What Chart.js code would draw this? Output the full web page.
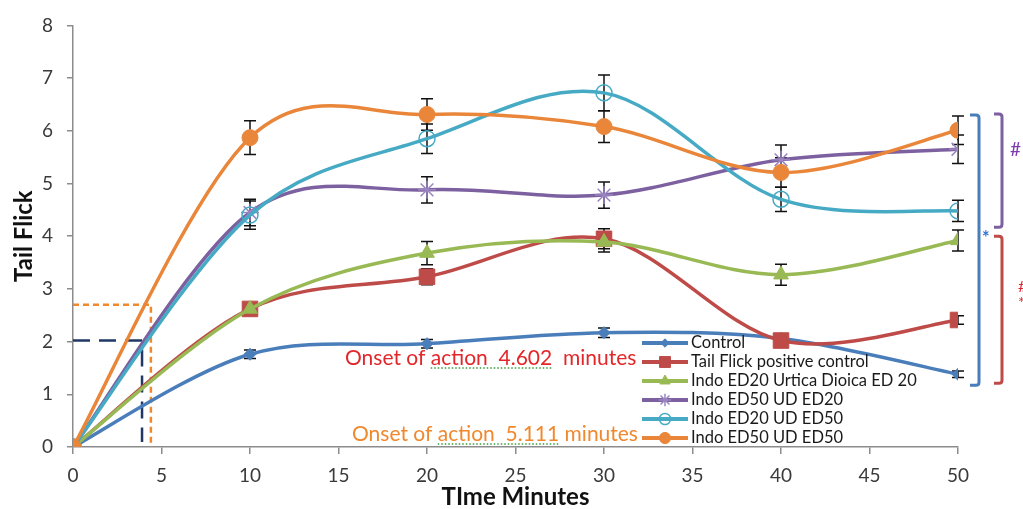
<!DOCTYPE html>
<html>
<head>
<meta charset="utf-8">
<title>Tail Flick</title>
<script src="https://cdn.jsdelivr.net/npm/chart.js@4.4.1/dist/chart.umd.min.js"></script>
<style>
  html, body { margin: 0; padding: 0; background: #ffffff; }
  #wrap { width: 1023px; height: 509px; position: relative; }
</style>
</head>
<body>
<div id="wrap"><canvas id="chart" width="1023" height="509"></canvas></div>
<script>
// Time points (minutes) and tick labels
const timeMinutes = [0, 10, 20, 30, 40, 50];
const xTicks = [0, 5, 10, 15, 20, 25, 30, 35, 40, 45, 50];
const yTicks = [0, 1, 2, 3, 4, 5, 6, 7, 8];

// Series names
const seriesNames = [
  'Control',
  'Tail Flick positive control',
  'Indo ED20 Urtica Dioica ED 20',
  'Indo ED50 UD ED20',
  'Indo ED20 UD ED50',
  'Indo ED50 UD ED50'
];

// Mean tail flick latency per series
const control            = [0, 1.76, 1.96, 2.17, 2.06, 1.38];
const positiveControl    = [0, 2.62, 3.23, 3.95, 2.02, 2.41];
const indoED20UrticaED20 = [0, 2.62, 3.68, 3.89, 3.27, 3.92];
const indoED50UDED20     = [0, 4.45, 4.88, 4.78, 5.45, 5.65];
const indoED20UDED50     = [0, 4.40, 5.85, 6.72, 4.70, 4.48];
const indoED50UDED50     = [0, 5.87, 6.31, 6.08, 5.21, 6.01];

// Error (± SEM) per series
const controlErr            = [0, 0.08, 0.08, 0.09, 0.08, 0.06];
const positiveControlErr    = [0, 0.10, 0.15, 0.19, 0.10, 0.08];
const indoED20UrticaED20Err = [0, 0.10, 0.22, 0.19, 0.20, 0.20];
const indoED50UDED20Err     = [0, 0.25, 0.25, 0.25, 0.28, 0.27];
const indoED20UDED50Err     = [0, 0.27, 0.28, 0.34, 0.23, 0.20];
const indoED50UDED50Err     = [0, 0.32, 0.30, 0.30, 0.28, 0.27];

// Onset guide lines: level on the y axis and time where it is reached
const onsetLevels = [2.02, 2.70];
const onsetTimes  = [3.9, 4.4];
const onsetNotes  = ['Onset of action  4.602  minutes', 'Onset of action  5.111 minutes'];

// Significance groups on the right: [top value, bottom value]
const groupSpans = [[6.30, 1.17], [6.32, 4.17], [4.00, 1.21]];

const FONT = "Lato, 'Open Sans', 'Liberation Sans', sans-serif";

function points(vals) {
  return timeMinutes.map((t, i) => ({ x: t, y: vals[i] }));
}

const common = {
  borderWidth: 3.5,
  tension: 0.5,
  fill: false,
  pointBorderWidth: 1,
  pointHoverRadius: 0
};

const datasets = [
  Object.assign({}, common, {
    label: seriesNames[0], data: points(control), errors: controlErr,
    borderColor: '#4A7EBB', pointBackgroundColor: '#4A7EBB', pointBorderColor: '#4A7EBB',
    pointStyle: 'rectRot', pointRadius: 6, order: 6
  }),
  Object.assign({}, common, {
    label: seriesNames[1], data: points(positiveControl), errors: positiveControlErr,
    borderColor: '#BE4B48', pointBackgroundColor: '#BE4B48', pointBorderColor: '#BE4B48',
    pointStyle: 'rect', pointRadius: 11, order: 5
  }),
  Object.assign({}, common, {
    label: seriesNames[2], data: points(indoED20UrticaED20), errors: indoED20UrticaED20Err,
    borderColor: '#98B954', pointBackgroundColor: '#98B954', pointBorderColor: '#98B954',
    pointStyle: 'triangle', pointRadius: 8.5, order: 4
  }),
  Object.assign({}, common, {
    label: seriesNames[3], data: points(indoED50UDED20), errors: indoED50UDED20Err,
    borderColor: '#7D60A0', pointBackgroundColor: '#9A85C2', pointBorderColor: '#9A85C2',
    pointStyle: 'star', pointRadius: 9, pointBorderWidth: 1.5, order: 3
  }),
  Object.assign({}, common, {
    label: seriesNames[4], data: points(indoED20UDED50), errors: indoED20UDED50Err,
    borderColor: '#46AAC5', pointBackgroundColor: 'rgba(0,0,0,0)', pointBorderColor: '#46AAC5',
    pointStyle: 'circle', pointRadius: 8, pointBorderWidth: 1.5, order: 2
  }),
  Object.assign({}, common, {
    label: seriesNames[5], data: points(indoED50UDED50), errors: indoED50UDED50Err,
    borderColor: '#E9863A', pointBackgroundColor: '#E9863A', pointBorderColor: '#E9863A',
    pointStyle: 'circle', pointRadius: 8, order: 1
  })
];

// Spreadsheet-style smoothing: Bezier handles at one sixth of the
// neighbour-to-neighbour vector (endpoints use themselves as neighbour)
const sixthSmoothing = {
  id: 'sixthSmoothing',
  beforeDatasetsDraw(chart) {
    chart.data.datasets.forEach((ds, di) => {
      const meta = chart.getDatasetMeta(di);
      const pts = meta.data;
      const n = pts.length;
      for (let i = 0; i < n; i++) {
        const p = pts[i];
        const prev = pts[Math.max(i - 1, 0)];
        const next = pts[Math.min(i + 1, n - 1)];
        const dx = (next.x - prev.x) / 6;
        const dy = (next.y - prev.y) / 6;
        p.cp1x = p.x - dx; p.cp1y = p.y - dy;
        p.cp2x = p.x + dx; p.cp2y = p.y + dy;
      }
      if (meta.dataset) {
        meta.dataset._pointsUpdated = true;
        meta.dataset._path = undefined;
      }
    });
  }
};

// Vertical error bars with caps, drawn under the markers
const errorBars = {
  id: 'errorBars',
  beforeDatasetsDraw(chart) {
    const { ctx, scales: { x, y } } = chart;
    ctx.save();
    ctx.strokeStyle = '#111111';
    ctx.lineWidth = 1.5;
    chart.data.datasets.forEach(ds => {
      ds.data.forEach((p, i) => {
        const e = ds.errors[i];
        if (!e) return;
        const px = x.getPixelForValue(p.x);
        const top = y.getPixelForValue(p.y + e);
        const bot = y.getPixelForValue(p.y - e);
        ctx.beginPath();
        ctx.moveTo(px, top); ctx.lineTo(px, bot);
        ctx.moveTo(px - 6, top); ctx.lineTo(px + 6, top);
        ctx.moveTo(px - 6, bot); ctx.lineTo(px + 6, bot);
        ctx.stroke();
      });
    });
    ctx.restore();
  }
};

// Dashed guides marking the onset level and time
const onsetGuides = {
  id: 'onsetGuides',
  beforeDatasetsDraw(chart) {
    const { ctx, scales: { x, y } } = chart;
    const styles = [
      { color: '#1F3864', dash: [17, 9], width: 2.5 },
      { color: '#F0882E', dash: [6, 4], width: 2.5 }
    ];
    ctx.save();
    onsetLevels.forEach((lvl, i) => {
      const s = styles[i];
      const x0 = x.getPixelForValue(0);
      const xt = x.getPixelForValue(onsetTimes[i]);
      const yl = y.getPixelForValue(lvl);
      const yb = y.getPixelForValue(0) - (i === 0 ? 5 : 0);
      ctx.strokeStyle = s.color;
      ctx.lineWidth = s.width;
      ctx.setLineDash(s.dash);
      ctx.beginPath();
      ctx.moveTo(x0, yl); ctx.lineTo(xt, yl); ctx.lineTo(xt, yb);
      ctx.stroke();
    });
    ctx.restore();
  }
};

function drawMarker(ctx, ds, cx, cy, scale) {
  const opts = {
    pointStyle: ds.pointStyle,
    radius: ds.pointRadius * scale,
    rotation: 0,
    borderWidth: ds.pointBorderWidth
  };
  ctx.save();
  ctx.fillStyle = ds.pointBackgroundColor;
  ctx.strokeStyle = ds.pointBorderColor;
  ctx.lineWidth = ds.pointBorderWidth;
  Chart.helpers.drawPoint(ctx, opts, cx, cy);
  ctx.restore();
}

// Notes, floating legend and group brackets
const overlays = {
  id: 'overlays',
  afterDatasetsDraw(chart) {
    const { ctx, scales: { x, y } } = chart;
    ctx.save();

    // Onset notes
    ctx.font = '21px ' + FONT;
    ctx.textBaseline = 'middle';
    ctx.textAlign = 'left';
    const notePos = [{ x: 345, y: 358, color: '#E3262A' }, { x: 352, y: 434, color: '#F0882E' }];
    onsetNotes.forEach((t, i) => {
      ctx.fillStyle = notePos[i].color;
      ctx.fillText(t, notePos[i].x, notePos[i].y);
      // spell-check style dotted underline beneath "action ..."
      const pre = ctx.measureText('Onset of ').width;
      const seg = ctx.measureText(i === 0 ? 'action  4.602' : 'action  5.111').width;
      ctx.save();
      ctx.strokeStyle = '#3A9A3A';
      ctx.lineWidth = 1.5;
      ctx.setLineDash([1.5, 2]);
      ctx.beginPath();
      ctx.moveTo(notePos[i].x + pre, notePos[i].y + 10);
      ctx.lineTo(notePos[i].x + pre + seg, notePos[i].y + 10);
      ctx.stroke();
      ctx.restore();
    });

    // Floating legend
    const lx0 = 642, lx1 = 688, ly0 = 343, lstep = 19;
    ctx.font = '16.5px ' + FONT;
    chart.data.datasets.forEach((ds, i) => {
      const yy = ly0 + i * lstep;
      ctx.strokeStyle = ds.borderColor;
      ctx.lineWidth = 4;
      ctx.setLineDash([]);
      ctx.beginPath();
      ctx.moveTo(lx0, yy); ctx.lineTo(lx1, yy);
      ctx.stroke();
      drawMarker(ctx, ds, (lx0 + lx1) / 2, yy, 0.7);
      ctx.fillStyle = '#1A1A1A';
      ctx.textAlign = 'left';
      ctx.textBaseline = 'middle';
      ctx.fillText(ds.label, 691, yy);
    });

    // Group brackets
    const brackets = [
      { xv: 979, arm: 9, color: '#4A7EBB' },
      { xv: 1002, arm: 8, color: '#7D60A0' },
      { xv: 1002, arm: 8, color: '#BE4B48' }
    ];
    groupSpans.forEach((span, i) => {
      const b = brackets[i];
      const t = y.getPixelForValue(span[0]);
      const btm = y.getPixelForValue(span[1]);
      ctx.strokeStyle = b.color;
      ctx.lineWidth = 3;
      ctx.beginPath();
      ctx.moveTo(b.xv - b.arm, t);
      ctx.lineTo(b.xv - 3, t);
      ctx.quadraticCurveTo(b.xv, t, b.xv, t + 3);
      ctx.lineTo(b.xv, btm - 3);
      ctx.quadraticCurveTo(b.xv, btm, b.xv - 3, btm);
      ctx.lineTo(b.xv - b.arm, btm);
      ctx.stroke();
    });
    ctx.textAlign = 'left';
    ctx.textBaseline = 'middle';
    ctx.font = 'bold 18px ' + FONT;
    ctx.fillStyle = '#2E75D6';
    ctx.fillText('*', 982, 238);
    ctx.font = '19px ' + FONT;
    ctx.fillStyle = '#7D3CB0';
    ctx.fillText('#', 1010, 150);
    ctx.font = '16px ' + FONT;
    ctx.fillStyle = '#E3262A';
    ctx.fillText('#', 1018, 287);
    ctx.fillText('*', 1018, 303);

    ctx.restore();
  }
};

new Chart(document.getElementById('chart'), {
  type: 'line',
  data: { datasets },
  options: {
    responsive: false,
    animation: false,
    events: [],
    layout: { padding: { left: 0, right: 65, top: 23, bottom: 0 } },
    plugins: { legend: { display: false }, tooltip: { enabled: false } },
    scales: {
      x: {
        type: 'linear',
        min: 0, max: 50,
        afterFit: s => { s.height = 62; },
        afterBuildTicks: s => { s.ticks = xTicks.map(v => ({ value: v })); },
        border: { color: '#8C8C8C', width: 1.5 },
        grid: { drawOnChartArea: false, drawTicks: true, tickLength: 7, color: '#8C8C8C', lineWidth: 1.5 },
        ticks: { color: '#3A3A3A', padding: 10, font: { family: FONT, size: 19 } },
        title: {
          display: true, text: 'TIme Minutes', color: '#111111',
          font: { family: FONT, size: 24, weight: 'bold' }, padding: { top: 0, bottom: -3 }
        }
      },
      y: {
        min: 0, max: 8,
        afterFit: s => { s.width = 73; },
        afterBuildTicks: s => { s.ticks = yTicks.map(v => ({ value: v })); },
        border: { color: '#8C8C8C', width: 1.5 },
        grid: { drawOnChartArea: false, drawTicks: true, tickLength: 6, color: '#8C8C8C', lineWidth: 1.5 },
        ticks: { color: '#3A3A3A', padding: 14, font: { family: FONT, size: 19 } },
        title: {
          display: true, text: 'Tail Flick', color: '#111111',
          font: { family: FONT, size: 24, weight: 'bold' }, padding: { top: 10, bottom: 0 }
        }
      }
    }
  },
  plugins: [sixthSmoothing, onsetGuides, errorBars, overlays]
});
</script>
</body>
</html>
